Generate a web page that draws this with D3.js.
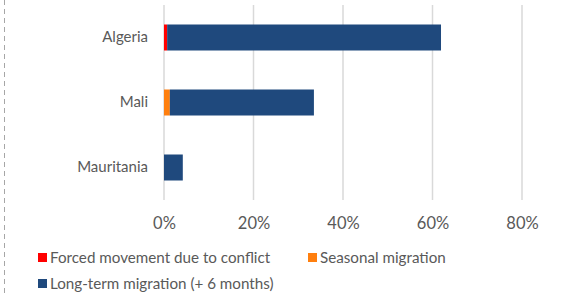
<!DOCTYPE html>
<html>
<head>
<meta charset="utf-8">
<script src="https://cdn.jsdelivr.net/npm/d3@7"></script>
<style>
  body { margin: 0; background: #fff; }
  text { font-family: Lato, "Open Sans", sans-serif; fill: #595959; }
</style>
</head>
<body>
<svg id="chart" width="567" height="293"></svg>
<script>
  // values (percent)
  var countries = ['Algeria', 'Mali', 'Mauritania'];
  var forced = [0.7, 0, 0];
  var seasonal = [0, 1.3, 0];
  var longTerm = [61.2, 32.2, 4.2];
  var seriesNames = ['Forced movement due to conflict', 'Seasonal migration', 'Long-term migration (+ 6 months)'];
  var seriesColors = ['#ff0000', '#ff7f0e', '#1f497d'];
  var ticks = [0, 20, 40, 60, 80];

  var svg = d3.select('#chart');

  // dashed border at left
  svg.append('line')
    .attr('x1', 4.5).attr('x2', 4.5).attr('y1', 0).attr('y2', 293)
    .style('stroke', '#a6a6a6').style('stroke-dasharray', '5,4');

  var xscale = d3.scaleLinear().domain([0, 80]).range([164, 522]);
  var yscale = d3.scaleBand().domain(countries).range([5, 200]).paddingInner(0.6).paddingOuter(0.3);

  var g = svg.append('g');

  // grid
  g.selectAll('line.grid').data(ticks).enter().append('line')
    .classed('grid', true)
    .attr('x1', function(d) { return xscale(d); })
    .attr('x2', function(d) { return xscale(d); })
    .attr('y1', 5).attr('y2', 200)
    .style('stroke', '#d9d9d9').style('stroke-width', 1.5);

  var rows = countries.map(function(c, i) {
    return {country: c, vals: [forced[i], seasonal[i], longTerm[i]]};
  });
  var stacked = d3.stack().keys([0, 1, 2]).value(function(d, k) { return d.vals[k]; })(rows);

  g.selectAll('g.series').data(stacked).enter().append('g')
    .classed('series', true)
    .style('fill', function(d, i) { return seriesColors[i]; })
    .selectAll('rect').data(function(d) { return d; })
    .enter().append('rect')
      .attr('x', function(d) { return xscale(d[0]); })
      .attr('width', function(d) { return xscale(d[1]) - xscale(d[0]); })
      .attr('y', function(d) { return yscale(d.data.country); })
      .attr('height', yscale.bandwidth());

  // category labels
  var yaxis = d3.axisLeft(yscale).tickSize(0).tickPadding(0);
  svg.append('g').attr('transform', 'translate(148,0)').call(yaxis)
    .call(function(a) { a.select('.domain').remove(); })
    .selectAll('text').style('font-size', '15px').style('fill', '#595959')
    .style('font-family', 'Lato, sans-serif');

  // x tick labels
  var xaxis = d3.axisBottom(xscale).tickValues(ticks).tickSize(0).tickPadding(0)
    .tickFormat(function(d) { return d + '%'; });
  svg.append('g').attr('transform', 'translate(0,217)').call(xaxis)
    .call(function(a) { a.select('.domain').remove(); })
    .selectAll('text').style('font-size', '16.5px').style('fill', '#595959')
    .style('font-family', 'Lato, sans-serif');

  // legend
  var legendPos = [[38, 258], [308, 258], [38, 284]];
  var lg = svg.selectAll('g.legend').data(seriesNames).enter().append('g')
    .classed('legend', true)
    .attr('transform', function(d, i) { return 'translate(' + legendPos[i][0] + ',' + legendPos[i][1] + ')'; });
  lg.append('rect').attr('x', 0).attr('y', -5).attr('width', 9).attr('height', 9)
    .style('fill', function(d, i) { return seriesColors[i]; });
  lg.append('text').attr('x', 12).attr('y', 0).attr('dy', '0.35em')
    .style('font-size', '15.2px').text(function(d) { return d; });
</script>
</body>
</html>
